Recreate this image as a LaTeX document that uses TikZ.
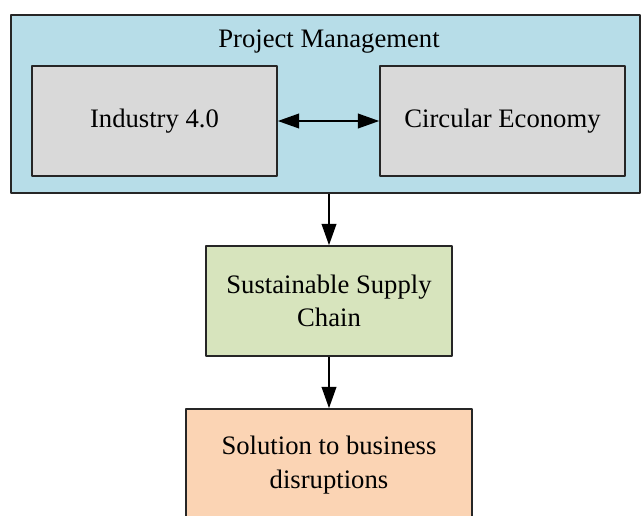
\documentclass[tikz,border=0pt]{standalone}
\usepackage{fontspec}
\setmainfont{Liberation Serif}
\usepackage{xcolor}
\usetikzlibrary{arrows.meta}

\definecolor{pmblue}{HTML}{B7DDE8}
\definecolor{boxgray}{HTML}{D9D9D9}
\definecolor{sscgreen}{HTML}{D7E4BD}
\definecolor{solorange}{HTML}{FBD4B4}

\begin{document}
\begin{tikzpicture}[x=0.75pt,y=-0.75pt,line join=round,
    >={Triangle[length=16pt,width=11pt]},
    block/.style={draw=black!85,line width=1.2pt,align=center,
      font=\fontsize{20}{25}\selectfont,inner sep=0pt},
    link/.style={->,line width=1.3pt}]
  \clip (0,0) rectangle (641,515);
  % outer project management frame
  \node[block,fill=pmblue,minimum width=471.75pt,minimum height=133.5pt] (pm) at (325.5,104) {};
  \node[font=\fontsize{20}{25}\selectfont,anchor=base] (pmtitle) at (329,47) {Project Management};
  \node[block,fill=boxgray,minimum width=183.75pt,minimum height=82.5pt] (industry) at (154.5,121) {Industry 4.0};
  \node[block,fill=boxgray,minimum width=183.75pt,minimum height=82.5pt] (circular) at (502.5,121) {Circular Economy};
  % lower chain
  \node[block,fill=sscgreen,minimum width=184.5pt,minimum height=82.5pt] (supply) at (329,301) {Sustainable Supply\\Chain};
  \node[block,fill=solorange,minimum width=214.5pt,minimum height=84pt] (solution) at (329,465) {Solution to business\\disruptions};
  \draw[link,<->] (industry) -- (circular);
  \draw[link] (supply.north |- pm.south) -- (supply);
  \draw[link] (supply) -- (solution);
\end{tikzpicture}
\end{document}
